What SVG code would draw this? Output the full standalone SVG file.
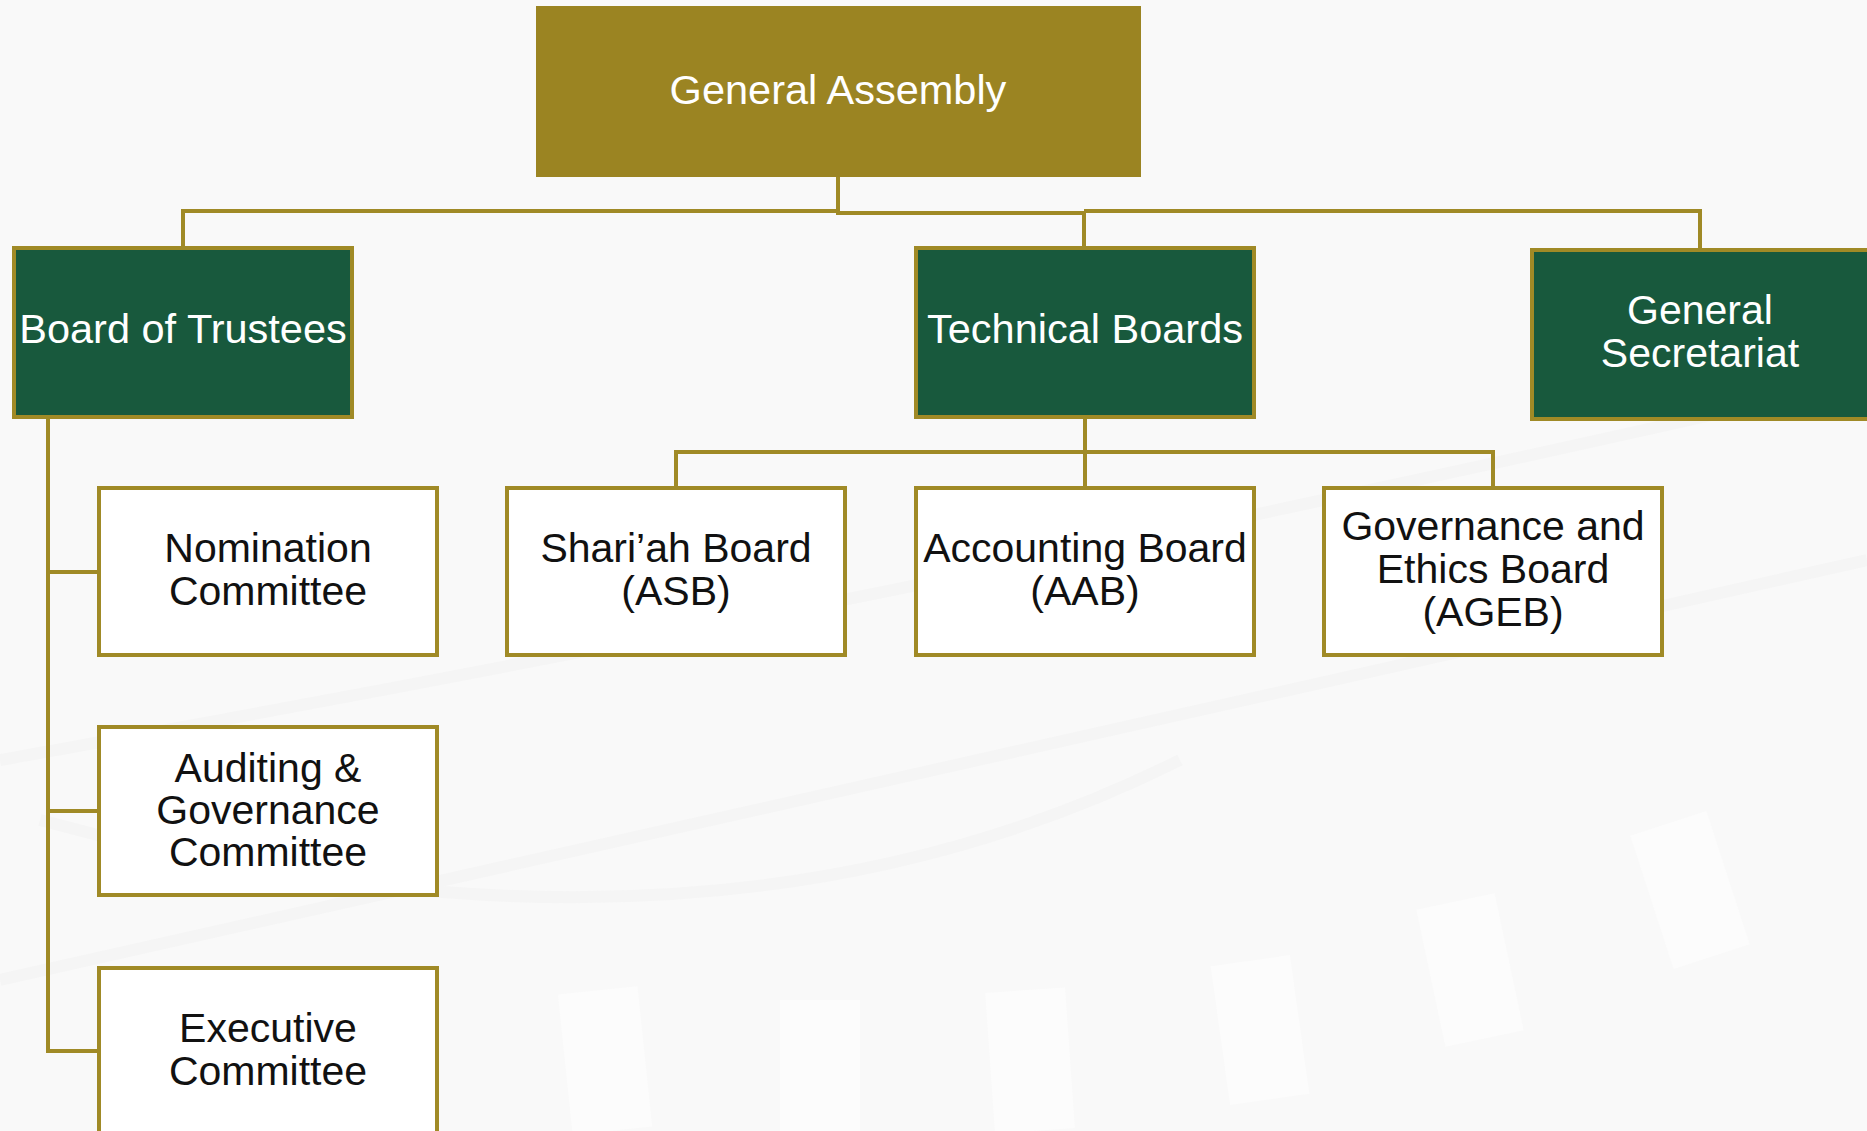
<svg xmlns="http://www.w3.org/2000/svg" width="1867" height="1131" viewBox="0 0 1867 1131">
  <defs>
    <style>
      .bg { fill: #f9f9f9; }
      .wm { fill: none; stroke: #f5f5f5; stroke-width: 12; }
      .pillar { fill: #fcfcfc; }
      .top { fill: #9b8422; }
      .head { fill: #18593d; stroke: #a08a26; stroke-width: 4; }
      .sub { fill: #ffffff; stroke: #a08a26; stroke-width: 4; }
      .lbl { font-family: "Liberation Sans", Arial, sans-serif; font-size: 41px; text-anchor: middle; }
      .big { font-size: 41.5px; }
      .light { fill: #ffffff; }
      .dark { fill: #111111; }
      .link { fill: none; stroke: #a08a26; stroke-width: 4; stroke-linejoin: miter; }
    </style>
  </defs>

  <!-- page background with faint decorative watermark -->
  <rect class="bg" x="0" y="0" width="1867" height="1131"/>
  <g id="watermark">
    <path class="wm" d="M0,760 Q900,600 1867,380"/>
    <path class="wm" d="M0,980 Q900,780 1867,560"/>
    <path class="wm" d="M40,820 Q700,1000 1180,760"/>
    <rect class="pillar" x="565" y="990" width="80" height="141" transform="rotate(-6 605 1060)"/>
    <rect class="pillar" x="780" y="1000" width="80" height="131"/>
    <rect class="pillar" x="990" y="990" width="80" height="141" transform="rotate(-4 1030 1060)"/>
    <rect class="pillar" x="1220" y="960" width="80" height="140" transform="rotate(-8 1260 1030)"/>
    <rect class="pillar" x="1430" y="900" width="80" height="140" transform="rotate(-12 1470 970)"/>
    <rect class="pillar" x="1650" y="820" width="80" height="140" transform="rotate(-18 1690 890)"/>
  </g>

  <!-- connectors -->
  <g id="connectors">
    <!-- General Assembly to first tier -->
    <path class="link" d="M838,177 V211 H183 V246"/>
    <path class="link" d="M838,211 V213 H1084 V246"/>
    <path class="link" d="M1084,211 H1700 V248"/>
    <!-- Board of Trustees to committees -->
    <path class="link" d="M48,417 V1051 H99"/>
    <path class="link" d="M48,572 H99"/>
    <path class="link" d="M48,811 H99"/>
    <!-- Technical Boards to boards -->
    <path class="link" d="M1085,417 V487"/>
    <path class="link" d="M676,487 V452 H1493 V487"/>
  </g>

  <!-- nodes -->
  <g id="general-assembly">
    <rect class="top" x="536" y="6" width="605" height="171"/>
    <text class="lbl big light" x="838" y="104">General Assembly</text>
  </g>

  <g id="board-of-trustees">
    <rect class="head" x="14" y="248" width="338" height="169"/>
    <text class="lbl big light" x="183" y="343">Board of Trustees</text>
  </g>

  <g id="technical-boards">
    <rect class="head" x="916" y="248" width="338" height="169"/>
    <text class="lbl big light" x="1085" y="343">Technical Boards</text>
  </g>

  <g id="general-secretariat">
    <rect class="head" x="1532" y="250" width="340" height="169"/>
    <text class="lbl light" x="1700" y="324">General</text>
    <text class="lbl light" x="1700" y="367">Secretariat</text>
  </g>

  <g id="nomination-committee">
    <rect class="sub" x="99" y="488" width="338" height="167"/>
    <text class="lbl dark" x="268" y="562">Nomination</text>
    <text class="lbl dark" x="268" y="605">Committee</text>
  </g>

  <g id="auditing-governance-committee">
    <rect class="sub" x="99" y="727" width="338" height="168"/>
    <text class="lbl dark" x="268" y="782">Auditing &amp;</text>
    <text class="lbl dark" x="268" y="824">Governance</text>
    <text class="lbl dark" x="268" y="866">Committee</text>
  </g>

  <g id="executive-committee">
    <rect class="sub" x="99" y="968" width="338" height="172"/>
    <text class="lbl dark" x="268" y="1042">Executive</text>
    <text class="lbl dark" x="268" y="1085">Committee</text>
  </g>

  <g id="shariah-board">
    <rect class="sub" x="507" y="488" width="338" height="167"/>
    <text class="lbl dark" x="676" y="562">Shari’ah Board</text>
    <text class="lbl dark" x="676" y="605">(ASB)</text>
  </g>

  <g id="accounting-board">
    <rect class="sub" x="916" y="488" width="338" height="167"/>
    <text class="lbl dark" x="1085" y="562">Accounting Board</text>
    <text class="lbl dark" x="1085" y="605">(AAB)</text>
  </g>

  <g id="governance-ethics-board">
    <rect class="sub" x="1324" y="488" width="338" height="167"/>
    <text class="lbl dark" x="1493" y="540">Governance and</text>
    <text class="lbl dark" x="1493" y="583">Ethics Board</text>
    <text class="lbl dark" x="1493" y="626">(AGEB)</text>
  </g>
</svg>
